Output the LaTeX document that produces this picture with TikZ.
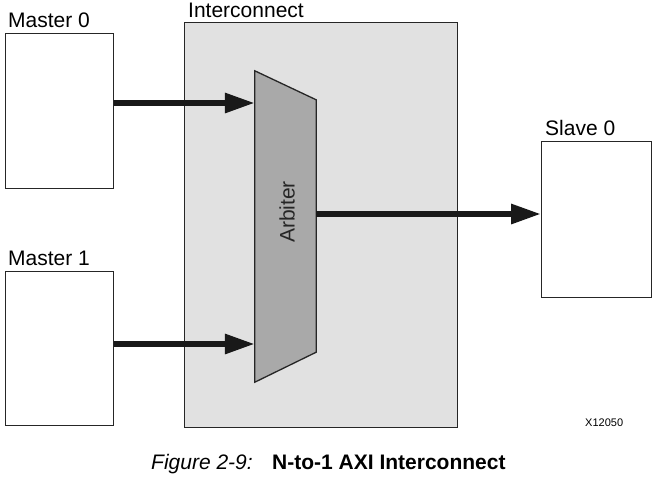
\documentclass[tikz,border=0pt]{standalone}
\usepackage{fontspec}
\setmainfont{Liberation Sans}
\usepackage{xcolor}
\usepackage{tikz}
\usetikzlibrary{arrows.meta,calc}

\definecolor{icgray}{HTML}{E1E1E1}
\definecolor{arbgray}{HTML}{A9A9A9}

\begin{document}
\begin{tikzpicture}[x=1pt,y=-1pt,
  unitbox/.style={draw=black!85,line width=1.3pt,fill=white,anchor=north west,inner sep=0pt},
  boxlbl/.style={anchor=base west,inner sep=0pt,font=\fontsize{21}{24}\selectfont},
  bus/.style={line width=6pt,color=black!90,-{Triangle[length=30pt,width=19pt]}}]
\useasboundingbox (0,0) rectangle (656,488);
%interconnect
\node[unitbox,fill=icgray,minimum width=273pt,minimum height=405pt] (ic) at (184,22) {};
\node[boxlbl] (iclbl) at (188,17) {Interconnect};
%masters
\node[unitbox,minimum width=108pt,minimum height=155pt] (m0) at (5,33) {};
\node[boxlbl] (m0lbl) at (8,27) {Master 0};
\node[unitbox,minimum width=108pt,minimum height=154pt] (m1) at (5,271) {};
\node[boxlbl] (m1lbl) at (8,265) {Master 1};
%slave
\node[unitbox,minimum width=110pt,minimum height=156pt] (s0) at (541,141) {};
\node[boxlbl] (s0lbl) at (545,135) {Slave 0};
%arbiter
\node[inner sep=0pt,minimum width=61pt,minimum height=311pt] (arb) at (285.5,226.5) {};
\draw[line width=1.3pt,draw=black!85,fill=arbgray]
  (arb.north west) -- ($(arb.north east)+(0,29)$) -- ($(arb.south east)+(0,-30)$)
  -- (arb.south west) -- cycle;
\node[rotate=90,inner sep=0pt,font=\fontsize{21}{24}\selectfont,text=black!85] (arblbl) at (287,212) {Arbiter};
%buses
\draw[bus] (m0.east |- 0,103) -- (arb.west |- 0,103);
\draw[bus] (m1.east |- 0,344) -- (arb.west |- 0,344);
\draw[bus] (arb.east |- 0,214) -- (s0.west |- 0,214);
%tag and caption
\node[anchor=base west,inner sep=0pt,font=\fontsize{11}{13}\selectfont] (tag) at (585,426) {X12050};
\node[anchor=base west,inner sep=0pt,font=\fontsize{21}{24}\selectfont\itshape] (figno) at (151,469) {Figure 2-9:};
\node[anchor=base west,inner sep=0pt,font=\fontsize{21}{24}\selectfont\bfseries] (figtitle) at (272,469) {N-to-1 AXI Interconnect};
\end{tikzpicture}
\end{document}
